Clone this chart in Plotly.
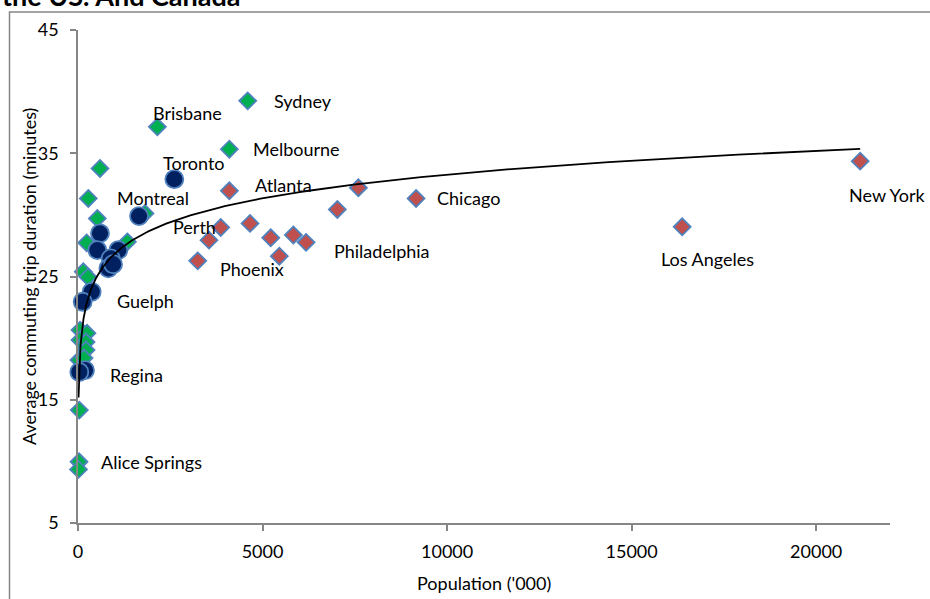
import numpy as np
import plotly.graph_objects as go

# ---------------- data ----------------
aus_pop = [4598, 2150, 4101, 596, 280, 524, 1816, 235, 1337, 144, 271,
           54, 244, 54, 217, 217, 27, 163, 35, 28, 15]
aus_time = [39.25, 37.14, 35.33, 33.77, 31.33, 29.71, 30.12, 27.73, 27.81, 25.38, 24.95,
            20.65, 20.40, 19.84, 19.68, 19.03, 18.22, 18.38, 14.16, 9.97, 9.35]

can_pop = [2610, 1653, 596, 524, 1093, 886, 822, 950, 371, 127, 190, 35]
can_time = [32.9, 29.9, 28.5, 27.14, 27.14, 26.47, 25.66, 26.0, 23.76, 22.95, 17.4, 17.25]

us_pop = [21192, 16369, 9160, 7596, 7027, 6179, 5835, 5455, 5222, 4661, 3867, 3550, 3243, 4101]
us_time = [34.36, 29.03, 31.33, 32.2, 30.44, 27.77, 28.36, 26.65, 28.14, 29.31, 28.98, 27.95, 26.27, 31.95]

# city labels: (text, series, index in series)
label_names = ["Sydney", "Brisbane", "Melbourne", "Perth", "Alice Springs",
               "Toronto", "Montreal", "Guelph", "Regina",
               "New York", "Los Angeles", "Chicago", "Philadelphia", "Phoenix", "Atlanta"]
label_series = ["aus", "aus", "aus", "aus", "aus",
                "can", "can", "can", "can",
                "us", "us", "us", "us", "us", "us"]
label_index = [0, 1, 2, 6, 19,
               0, 1, 9, 10,
               0, 1, 2, 5, 12, 13]
# label offsets from the point in pixels (style, not data)
label_dx = [24, -6, 22, 26, 20, -13, -24, 32, 23, -13, -23, 19, 26, 20, 24]
label_dy = [0, 14, 0, -14, 0, 16, 18, 1, -5, -34, -32, 0, -9, -8, 6]

x_ticks = [0, 5000, 10000, 15000, 20000]
y_ticks = [5, 15, 25, 35, 45]

# ---------------- figure ----------------
FONT = "Lato, 'Open Sans', sans-serif"
EDGE = "#4F81BD"
AXIS = "#868686"

fig = go.Figure()
fig.add_trace(go.Scatter(x=aus_pop, y=aus_time, mode="markers", name="Australia",
                         marker=dict(symbol="diamond", size=13, color="#00B050",
                                     line=dict(color=EDGE, width=1.8)),
                         cliponaxis=False))
fig.add_trace(go.Scatter(x=can_pop, y=can_time, mode="markers", name="Canada",
                         marker=dict(symbol="circle", size=18, color="#002060",
                                     line=dict(color=EDGE, width=1.8)),
                         cliponaxis=False))
fig.add_trace(go.Scatter(x=us_pop, y=us_time, mode="markers", name="US",
                         marker=dict(symbol="diamond", size=13, color="#C0504D",
                                     line=dict(color=EDGE, width=1.8)),
                         cliponaxis=False))

# logarithmic trendline fitted to all points (as Excel does)
all_x = np.array(aus_pop + can_pop + us_pop, dtype=float)
all_y = np.array(aus_time + can_time + us_time, dtype=float)
a, b = np.polyfit(np.log(all_x), all_y, 1)
tx = np.geomspace(all_x.min(), all_x.max(), 300)
fig.add_trace(go.Scatter(x=tx, y=a * np.log(tx) + b, mode="lines", name="Log trend",
                         line=dict(color="black", width=1.8), cliponaxis=False))

series = {"aus": (aus_pop, aus_time), "can": (can_pop, can_time), "us": (us_pop, us_time)}
annotations = []
for name, s, i, dx, dy in zip(label_names, label_series, label_index, label_dx, label_dy):
    xs, ys = series[s]
    annotations.append(dict(x=xs[i], y=ys[i], xref="x", yref="y", text=name,
                            showarrow=False, xanchor="left", yanchor="middle",
                            xshift=dx, yshift=dy,
                            font=dict(family=FONT, size=18, color="black")))

# axis titles and (clipped) chart title
annotations.append(dict(x=-0.061, y=0.5, xref="paper", yref="paper",
                        text="Average commuting trip duration (minutes)", textangle=-90,
                        showarrow=False, xanchor="center", yanchor="middle",
                        font=dict(family=FONT, size=18, color="black")))
annotations.append(dict(x=0.5, y=-0.1217, xref="paper", yref="paper",
                        text="Population ('000)", showarrow=False,
                        xanchor="center", yanchor="middle",
                        font=dict(family=FONT, size=18, color="black")))
annotations.append(dict(x=-0.0955, y=1.033, xref="paper", yref="paper",
                        text="<b>the US. And Canada</b>", showarrow=False,
                        xanchor="left", yanchor="bottom",
                        font=dict(family=FONT, size=27, color="black")))

fig.update_layout(
    width=930, height=599,
    margin=dict(l=78, r=40, t=30, b=76),
    paper_bgcolor="white", plot_bgcolor="white",
    showlegend=False,
    font=dict(family=FONT, size=18, color="black"),
    annotations=annotations,
    shapes=[dict(type="rect", xref="paper", yref="paper",
                 x0=(9.5 - 78) / 812, x1=(960 - 78) / 812,
                 y0=(523 - 640) / 493, y1=(523 - 12) / 493,
                 line=dict(color=AXIS, width=1.5), fillcolor="rgba(0,0,0,0)", layer="below")],
)
fig.update_xaxes(range=[0, 22000], tickvals=x_ticks, ticktext=[str(v) for v in x_ticks],
                 showgrid=False, zeroline=False, showline=True, linecolor=AXIS, linewidth=1.5,
                 ticks="outside", ticklen=6, tickcolor=AXIS, tickwidth=1.5,
                 ticklabelstandoff=6, tickfont=dict(family=FONT, size=18, color="black"))
fig.update_yaxes(range=[5, 45], tickvals=y_ticks, ticktext=[str(v) for v in y_ticks],
                 showgrid=False, zeroline=False, showline=True, linecolor=AXIS, linewidth=1.5,
                 ticks="outside", ticklen=6, tickcolor=AXIS, tickwidth=1.5,
                 ticklabelstandoff=8, tickfont=dict(family=FONT, size=18, color="black"))

fig.write_html("out.html", config={"displayModeBar": False},
               post_script="document.body.style.margin='0px';document.body.style.overflow='hidden';")
